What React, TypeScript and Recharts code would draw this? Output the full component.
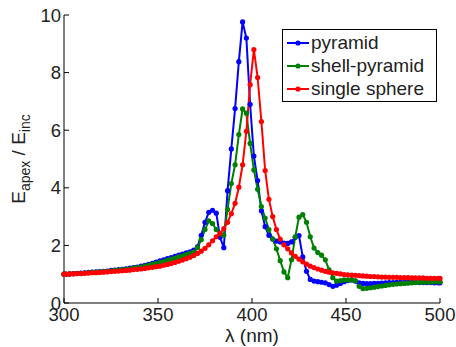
import { LineChart, Line, XAxis, YAxis, Legend } from "recharts";

const FONT = '"Liberation Sans", Arial, Helvetica, sans-serif';

// wavelength grid (nm)
const lambda = [
  300,
  301, 303, 305, 307, 309, 311, 313, 315, 317, 319,
  321, 323, 325, 327, 329, 331, 333, 335, 337, 339,
  341, 343, 345, 347, 349, 351, 353, 355, 357, 359,
  361, 363, 365, 367, 369, 371, 373, 375, 377, 379,
  381, 383, 385, 387, 389, 391, 393, 395, 397, 399,
  401, 403, 405, 407, 409, 411, 413, 415, 417, 419,
  421, 423, 425, 427, 429, 431, 433, 435, 437, 439,
  441, 443, 445, 447, 449, 451, 453, 455, 457, 459,
  461, 463, 465, 467, 469, 471, 473, 475, 477, 479,
  481, 483, 485, 487, 489, 491, 493, 495, 497, 499,
  500,
];

const pyramid = [
  1.0,
  1.0, 1.01, 1.02, 1.03, 1.04, 1.05, 1.06, 1.07, 1.08, 1.09,
  1.1, 1.11, 1.13, 1.14, 1.16, 1.17, 1.19, 1.21, 1.23, 1.25,
  1.28, 1.31, 1.34, 1.38, 1.42, 1.46, 1.5, 1.54, 1.58, 1.62,
  1.66, 1.7, 1.74, 1.78, 1.84, 1.95, 2.35, 2.8, 3.15, 3.22,
  3.12, 2.28, 1.92, 3.9, 5.35, 6.75, 8.38, 9.76, 9.2, 6.9,
  5.1, 4.25, 3.2, 2.65, 2.35, 2.22, 2.15, 2.12, 2.08, 2.07,
  2.12, 2.28, 2.34, 1.6, 1.1, 0.82, 0.76, 0.74, 0.72, 0.7,
  0.64, 0.58, 0.62, 0.68, 0.74, 0.78, 0.8, 0.76, 0.7, 0.68,
  0.67, 0.67, 0.68, 0.68, 0.69, 0.7, 0.71, 0.71, 0.72, 0.72,
  0.72, 0.72, 0.72, 0.72, 0.71, 0.71, 0.71, 0.71, 0.7, 0.7,
  0.7,
];

const shellPyramid = [
  1.0,
  1.0, 1.01, 1.02, 1.02, 1.03, 1.04, 1.05, 1.06, 1.07, 1.08,
  1.09, 1.1, 1.11, 1.13, 1.14, 1.15, 1.17, 1.19, 1.21, 1.23,
  1.25, 1.28, 1.31, 1.34, 1.37, 1.41, 1.44, 1.48, 1.52, 1.56,
  1.6, 1.64, 1.68, 1.72, 1.77, 1.92, 2.2, 2.55, 2.85, 2.76,
  2.55, 2.4, 2.36, 3.25, 4.15, 4.8, 5.85, 6.74, 6.59, 5.54,
  4.62, 3.95, 3.35, 2.95, 2.55, 2.22, 1.88, 1.47, 1.08, 0.88,
  1.5, 2.3, 2.98, 3.07, 2.8, 2.3, 1.91, 1.75, 1.66, 1.5,
  1.15, 0.88, 0.76, 0.78, 0.8, 0.8, 0.8, 0.77, 0.58, 0.5,
  0.51, 0.53, 0.55, 0.57, 0.59, 0.61, 0.63, 0.65, 0.66, 0.67,
  0.68, 0.69, 0.7, 0.71, 0.72, 0.72, 0.73, 0.73, 0.74, 0.74,
  0.74,
];

const singleSphere = [
  1.0,
  1.0, 1.01, 1.01, 1.02, 1.02, 1.03, 1.04, 1.05, 1.05, 1.06,
  1.07, 1.08, 1.09, 1.1, 1.11, 1.12, 1.13, 1.14, 1.16, 1.17,
  1.18, 1.2, 1.22, 1.24, 1.26, 1.28, 1.31, 1.34, 1.37, 1.41,
  1.45, 1.49, 1.54, 1.59, 1.65, 1.72, 1.8, 1.9, 2.02, 2.16,
  2.3, 2.42, 2.58, 2.8, 3.1, 3.46, 4.02, 4.8, 5.96, 7.58,
  8.8, 7.83, 6.3, 4.6, 3.6, 3.0, 2.55, 2.22, 2.02, 1.88,
  1.74, 1.62, 1.52, 1.43, 1.35, 1.28, 1.23, 1.18, 1.14, 1.1,
  1.07, 1.05, 1.03, 1.01, 0.99, 0.98, 0.97, 0.96, 0.95, 0.94,
  0.93, 0.92, 0.92, 0.91, 0.9, 0.9, 0.89, 0.89, 0.89, 0.88,
  0.88, 0.88, 0.87, 0.87, 0.87, 0.87, 0.86, 0.86, 0.86, 0.86,
  0.86,
];

const xTicks = [300, 350, 400, 450, 500];
const yTicks = [0, 2, 4, 6, 8, 10];
const seriesKeys = ["pyramid", "shell", "sphere"];
const seriesNames = ["pyramid", "shell-pyramid", "single sphere"];
const seriesColors = ["#0000ff", "#008000", "#ff0000"];

const data = lambda.map((x, i) => ({
  x,
  pyramid: pyramid[i],
  shell: shellPyramid[i],
  sphere: singleSphere[i],
}));

const tickStyle = { fontSize: 18.5, fill: "#222", fontFamily: FONT };

function YLabel({ viewBox }: any) {
  const cx = (viewBox?.x ?? 24) + 1;
  const cy = (viewBox?.y ?? 15) + (viewBox?.height ?? 288) / 2;
  return (
    <text
      x={cx}
      y={cy}
      transform={`rotate(-90, ${cx}, ${cy})`}
      textAnchor="middle"
      fontSize={19}
      fill="#222"
      fontFamily={FONT}
    >
      E<tspan fontSize={14} dy={5}>apex</tspan>
      <tspan dy={-5}> / E</tspan>
      <tspan fontSize={14} dy={5}>inc</tspan>
    </text>
  );
}

function LegendBox() {
  return (
    <div
      style={{
        boxSizing: "border-box",
        width: 155,
        height: 73,
        border: "1px solid #000",
        background: "#fff",
        padding: "1px 0 0 3px",
        fontFamily: FONT,
        fontSize: 19,
        color: "#222",
      }}
    >
      {seriesNames.map((name, i) => (
        <div key={name} style={{ display: "flex", alignItems: "center", height: 23.3 }}>
          <svg width={24} height={10}>
            <line x1={1} y1={5} x2={23} y2={5} stroke={seriesColors[i]} strokeWidth={2} />
            <circle cx={12} cy={5} r={2.6} fill={seriesColors[i]} />
          </svg>
          <span style={{ marginLeft: 1 }}>{name}</span>
        </div>
      ))}
    </div>
  );
}

export default function App() {
  return (
    <div style={{ position: "absolute", left: 0, top: 0, background: "#fff" }}>
      <LineChart
        width={456}
        height={347}
        data={data}
        margin={{ top: 15, right: 16, bottom: 0, left: 24 }}
      >
        <XAxis
          dataKey="x"
          type="number"
          domain={[300, 500]}
          ticks={xTicks}
          height={44}
          tick={tickStyle}
          tickSize={-5}
          tickMargin={10}
          stroke="#000"
          label={{
            value: "λ (nm)",
            position: "insideBottom",
            offset: 5,
            fontSize: 19,
            fill: "#222",
            fontFamily: FONT,
          }}
        />
        <XAxis
          xAxisId="top"
          orientation="top"
          dataKey="x"
          type="number"
          domain={[300, 500]}
          ticks={xTicks}
          height={0}
          tickSize={-5}
          tickFormatter={() => ""}
          stroke="#000"
        />
        <YAxis
          type="number"
          domain={[0, 10]}
          ticks={yTicks}
          width={40}
          tick={tickStyle}
          tickSize={-5}
          tickMargin={8}
          stroke="#000"
          label={{ content: YLabel }}
        />
        <YAxis
          yAxisId="right"
          orientation="right"
          type="number"
          domain={[0, 10]}
          ticks={yTicks}
          width={0}
          tickSize={-5}
          tickFormatter={() => ""}
          stroke="#000"
        />
        <Legend
          layout="vertical"
          align="center"
          verticalAlign="middle"
          content={LegendBox}
          wrapperStyle={{ left: 282, top: 29, width: 155 }}
        />
        {seriesKeys.map((k, i) => (
          <Line
            key={k}
            dataKey={k}
            name={seriesNames[i]}
            type="linear"
            stroke={seriesColors[i]}
            strokeWidth={2}
            dot={{ r: 2.6, fill: seriesColors[i], stroke: "none" }}
            isAnimationActive={false}
          />
        ))}
      </LineChart>
    </div>
  );
}
